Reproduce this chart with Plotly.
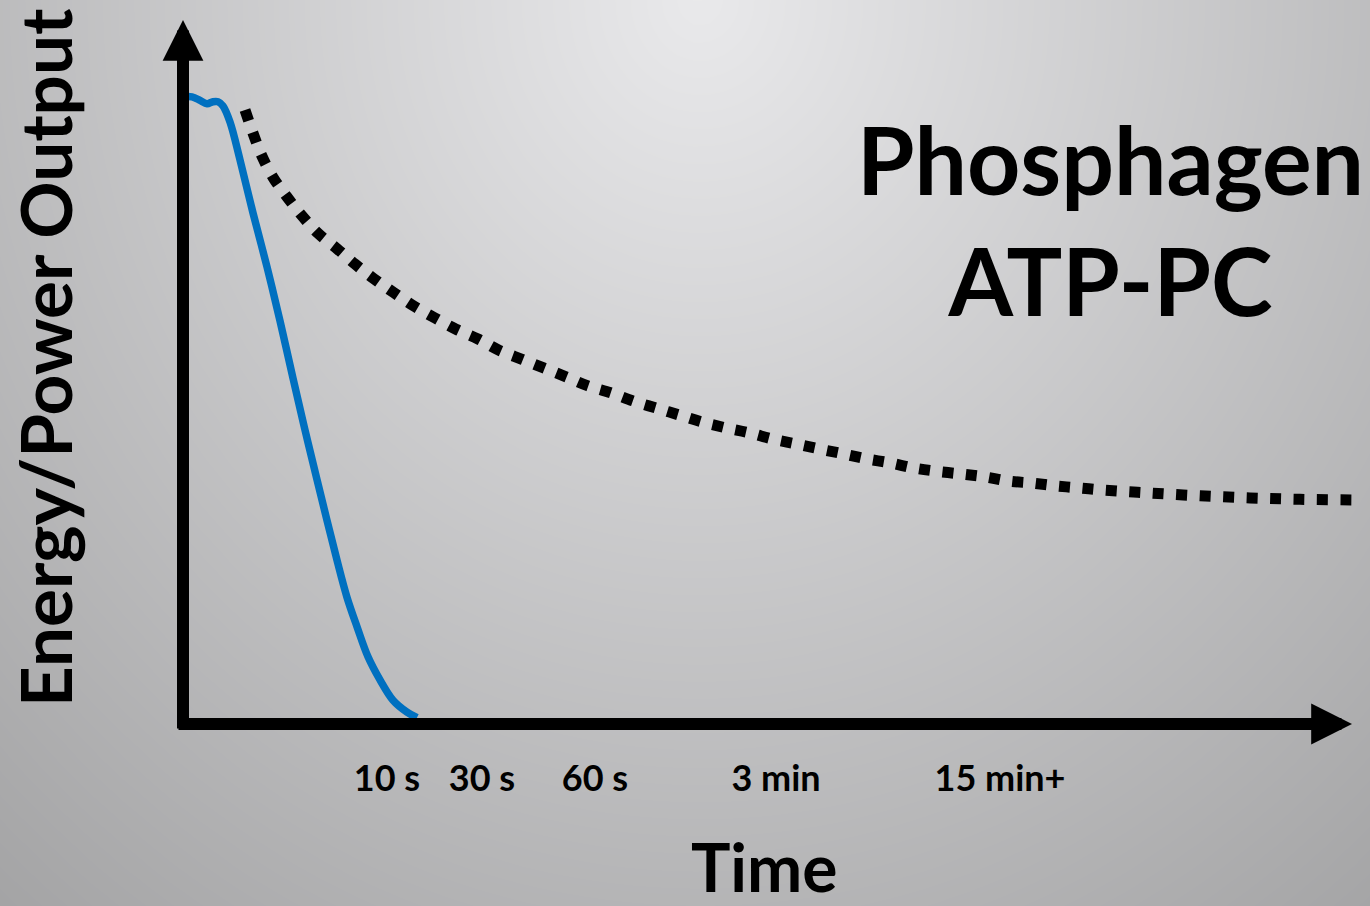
import numpy as np
import plotly.graph_objects as go

# ---- curve data (time position along the axis, relative energy/power output) ----
blue_t = [0.0, 0.9, 1.7, 2.4, 3.0, 3.5, 4.0, 4.7, 5.7, 7.0, 8.4, 9.7, 11.0, 12.2,
          13.4, 14.4, 15.4, 16.4, 17.4, 18.5, 19.7, 21.0, 22.4, 23.4]
blue_out = [89.6, 89.6, 89.1, 88.6, 88.9, 88.9, 88.3, 86.0, 80.6, 73.0, 65.3, 57.6,
            49.4, 42.0, 34.9, 29.1, 23.4, 18.1, 13.9, 9.6, 6.3, 3.4, 1.7, 0.9]

dot_t = [6.2, 7.0, 7.9, 9.0, 10.4, 11.9, 13.5, 15.4, 17.2, 19.1, 21.1, 23.1, 25.2,
         27.3, 29.5, 31.6, 33.9, 36.0, 38.3, 40.5, 42.8, 45.1, 47.4, 49.7, 52.0,
         54.3, 56.6, 59.0, 61.3, 63.6, 66.0, 68.3, 70.7, 73.0, 75.4, 77.9, 80.2,
         82.6, 85.0, 87.4, 89.8, 92.2, 96.7, 101.7, 106.7, 111.7, 117.4]
dot_out = [87.7, 84.4, 81.1, 78.1, 75.3, 72.6, 70.1, 67.9, 65.7, 63.6, 61.6, 59.7,
           58.0, 56.4, 55.0, 53.4, 52.1, 50.9, 49.6, 48.3, 47.3, 46.1, 45.1, 44.1,
           43.1, 42.3, 41.6, 40.7, 40.0, 39.3, 38.6, 37.9, 37.3, 36.6, 36.1, 35.7,
           35.3, 34.7, 34.4, 34.0, 33.7, 33.4, 33.0, 32.6, 32.3, 32.1, 32.0]

tick_pos = [20.4, 29.9, 41.2, 59.3, 81.7]
tick_text = ["10 s", "30 s", "60 s", "3 min", "15 min+"]

# ---- canvas / axis geometry ----
W, H = 1370, 906
X0_PX, Y0_PX = 183, 724        # where the axes cross
PX_PER_X, PX_PER_Y = 10.0, 7.0
x_range = [-X0_PX / PX_PER_X, (W - X0_PX) / PX_PER_X]
y_range = [(Y0_PX - H) / PX_PER_Y, Y0_PX / PX_PER_Y]

FONT = "Lato"

fig = go.Figure()

# soft radial grey backdrop, lightest near the top centre
gx = np.linspace(x_range[0], x_range[1], 90)
gy = np.linspace(y_range[0], y_range[1], 70)
GX, GY = np.meshgrid(gx, gy)
px = X0_PX + GX * PX_PER_X
py = Y0_PX - GY * PX_PER_Y
dist = np.sqrt(((px - 700) / 900.0) ** 2 + (py / 1000.0) ** 2)
shade = 233 - 58 * dist
fig.add_trace(go.Heatmap(
    x=gx, y=gy, z=shade, zsmooth="best", showscale=False, hoverinfo="skip",
    zmin=150, zmax=235,
    colorscale=[[0, "rgb(150,150,151)"], [1, "rgb(235,235,237)"]],
))

# dotted reference curve
fig.add_trace(go.Scatter(
    x=dot_t, y=dot_out, mode="lines", line_shape="spline",
    line=dict(color="black", width=11, dash="11px,12.5px"),
    hoverinfo="skip",
))

# phosphagen (ATP-PC) system output
fig.add_trace(go.Scatter(
    x=blue_t, y=blue_out, mode="lines", line_shape="spline",
    line=dict(color="#0070C0", width=7.5),
    hoverinfo="skip",
))

annotations = []
# axes drawn as arrows
annotations.append(dict(
    x=0, y=(Y0_PX - 20) / PX_PER_Y, ax=0, ay=-6 / PX_PER_Y,
    xref="x", yref="y", axref="x", ayref="y", text="", showarrow=True,
    arrowhead=2, arrowsize=0.68, arrowwidth=12, arrowcolor="black", standoff=0,
))
annotations.append(dict(
    x=(1352 - X0_PX) / PX_PER_X, y=0, ax=-6 / PX_PER_X, ay=0,
    xref="x", yref="y", axref="x", ayref="y", text="", showarrow=True,
    arrowhead=2, arrowsize=0.68, arrowwidth=12, arrowcolor="black", standoff=0,
))

# headline
annotations.append(dict(
    x=(1110 - X0_PX) / PX_PER_X, y=(Y0_PX - 219) / PX_PER_Y, xref="x", yref="y",
    text="Phosphagen<br>ATP-PC", showarrow=False, align="center",
    xanchor="center", yanchor="middle",
    font=dict(family=FONT, size=93, color="black", weight="bold"),
))
# axis titles
annotations.append(dict(
    x=(764 - X0_PX) / PX_PER_X, y=(Y0_PX - 866) / PX_PER_Y, xref="x", yref="y",
    text="Time", showarrow=False, xanchor="center", yanchor="middle",
    font=dict(family=FONT, size=66, color="black", weight="bold"),
))
annotations.append(dict(
    x=(44 - X0_PX) / PX_PER_X, y=(Y0_PX - 358) / PX_PER_Y, xref="x", yref="y",
    text="Energy/Power Output", showarrow=False, textangle=-90,
    xanchor="center", yanchor="middle",
    font=dict(family=FONT, size=71, color="black", weight="bold"),
))

fig.update_layout(
    width=W, height=H, autosize=False,
    margin=dict(l=0, r=0, t=0, b=0, pad=0),
    paper_bgcolor="#c8c8c8", plot_bgcolor="#c8c8c8",
    showlegend=False, hovermode=False,
    annotations=annotations,
    xaxis=dict(
        range=x_range, domain=[0, 1], anchor="free", position=(H - Y0_PX) / H,
        showgrid=False, zeroline=False, showline=False,
        tickmode="array", tickvals=tick_pos, ticktext=tick_text,
        ticks="", ticklabelstandoff=30,
        tickfont=dict(family=FONT, size=36, color="black", weight="bold"),
        fixedrange=True,
    ),
    yaxis=dict(
        range=y_range, domain=[0, 1], showgrid=False, zeroline=False,
        showline=False, showticklabels=False, ticks="", fixedrange=True,
    ),
)

fig.write_html("out.html", config={"displayModeBar": False, "staticPlot": True})
